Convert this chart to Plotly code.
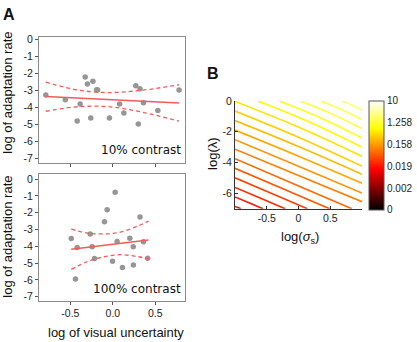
import plotly.graph_objects as go

W, H = 417, 342

# ---------------- data: panel A ----------------
top_x = [-0.79, -0.56, -0.42, -0.385, -0.326, -0.30, -0.26, -0.235, -0.19, -0.18,
         -0.04, 0.08, 0.13, 0.27, 0.30, 0.32, 0.36, 0.53, 0.78]
top_y = [-3.26, -3.55, -4.80, -3.80, -2.20, -2.62, -4.62, -2.45, -2.95, -2.97,
         -4.61, -3.80, -4.32, -2.72, -4.97, -2.89, -3.72, -4.18, -2.97]
top_fit_x = [-0.79, 0.78]
top_fit_y = [-3.35, -3.74]
top_band_x = [-0.79, -0.40, -0.03, 0.35, 0.78]
top_band_upper = [-2.51, -2.98, -3.12, -2.98, -2.66]
top_band_lower = [-4.22, -3.95, -3.96, -4.28, -4.80]

bot_x = [-0.49, -0.42, -0.44, -0.267, -0.244, -0.216, -0.098, -0.067, -0.004, 0.027,
         0.05, 0.113, 0.20, 0.24, 0.242, 0.32, 0.36, 0.41]
bot_y = [-3.54, -4.07, -5.95, -3.27, -4.03, -4.73, -2.55, -1.83, -4.90, -0.78,
         -3.72, -5.27, -3.52, -4.03, -5.12, -2.26, -3.74, -4.71]
bot_fit_x = [-0.49, 0.42]
bot_fit_y = [-4.18, -3.63]
bot_band_x = [-0.49, -0.30, -0.10, 0.10, 0.30, 0.42]
bot_band_upper = [-2.98, -3.215, -3.265, -3.145, -2.785, -2.51]
bot_band_lower = [-5.38, -4.915, -4.625, -4.505, -4.625, -4.75]

a_ytick_vals = [0, -1, -2, -3, -4, -5, -6, -7]
a_ytick_text = ["0", "-1", "-2", "-3", "-4", "-5", "-6", "-7"]
a_xtick_vals = [-0.5, 0.0, 0.5]
a_xtick_text = ["-0.5", "0.0", "0.5"]

# ---------------- data: panel B ----------------
c_start_x = [-1, -1, -1, -1, -1, -1, -1, -1, -1, -1, -1, -1, -0.64, -0.30, 0.03, 0.35, 0.69]
c_start_y = [-6.85, -6.23, -5.61, -4.99, -4.37, -3.75, -3.13, -2.51, -1.89, -1.27, -0.65, -0.03,
             0, 0, 0, 0, 0]
c_end_x = [-0.91, -0.56, -0.21, 0.14, 0.49, 0.84, 1, 1, 1, 1, 1, 1, 1, 1, 1, 1, 1]
c_end_y = [-7, -7, -7, -7, -7, -7, -6.54, -5.98, -5.34, -4.76, -4.23, -3.60, -3.00, -2.40,
           -1.80, -1.20, -0.60]
c_bulge = [0, 0, 0, 0, 0, 0, 0, 0, 0.03, 0.06, 0.09, 0.12, 0.12, 0.10, 0.08, 0.05, 0.02]
c_levels = [0.38, 0.41, 0.44, 0.47, 0.50, 0.53, 0.56, 0.59, 0.62, 0.65, 0.68, 0.71,
            0.74, 0.77, 0.80, 0.83, 0.86]
b_xtick_vals = [-0.5, 0, 0.5]
b_xtick_text = ["-0.5", "0", "0.5"]
b_ytick_vals = [0, -2, -4, -6]
b_ytick_text = ["0", "-2", "-4", "-6"]
cbar_tickvals = [0, 0.2, 0.4, 0.6, 0.8, 1.0]
cbar_ticktext = ["0", "0.002", "0.019", "0.158", "1.258", "10"]


def hot(t):
    r = min(1.0, max(0.0, t / 0.375))
    g = min(1.0, max(0.0, (t - 0.375) / 0.375))
    b = min(1.0, max(0.0, (t - 0.75) / 0.25))
    return "rgb(%d,%d,%d)" % (round(r * 255), round(g * 255), round(b * 255))


hot_scale = [[0, "rgb(0,0,0)"], [0.375, "rgb(255,0,0)"], [0.75, "rgb(255,255,0)"], [1, "rgb(255,255,255)"]]


def fx(p):
    return p / W


def fy(p):
    return 1 - p / H


RED = "rgb(240,92,92)"
PT = "rgb(150,150,150)"
FONT = "Liberation Sans, Arial, sans-serif"

fig = go.Figure()

for xs, ys, fxs, fys, bx, bu, bl, ax in [
    (top_x, top_y, top_fit_x, top_fit_y, top_band_x, top_band_upper, top_band_lower, ("x", "y")),
    (bot_x, bot_y, bot_fit_x, bot_fit_y, bot_band_x, bot_band_upper, bot_band_lower, ("x2", "y2")),
]:
    fig.add_trace(go.Scatter(x=xs, y=ys, mode="markers", xaxis=ax[0], yaxis=ax[1],
                             marker=dict(size=5.5, color=PT), showlegend=False, hoverinfo="skip"))
    fig.add_trace(go.Scatter(x=fxs, y=fys, mode="lines", xaxis=ax[0], yaxis=ax[1],
                             line=dict(color=RED, width=1.5), showlegend=False, hoverinfo="skip"))
    for band in (bu, bl):
        fig.add_trace(go.Scatter(x=bx, y=band, mode="lines", xaxis=ax[0], yaxis=ax[1],
                                 line=dict(color=RED, width=1.3, dash="4px,3px", shape="spline"),
                                 showlegend=False, hoverinfo="skip"))

for k in range(len(c_start_x)):
    mx = (c_start_x[k] + c_end_x[k]) / 2
    my = (c_start_y[k] + c_end_y[k]) / 2 + c_bulge[k]
    fig.add_trace(go.Scatter(x=[c_start_x[k], mx, c_end_x[k]], y=[c_start_y[k], my, c_end_y[k]],
                             mode="lines", xaxis="x3", yaxis="y3",
                             line=dict(color=hot(c_levels[k]), width=1.6, shape="spline"),
                             showlegend=False, hoverinfo="skip"))

fig.add_trace(go.Scatter(x=[5, 5], y=[5, 5], mode="markers", xaxis="x3", yaxis="y3",
                         marker=dict(color=[0, 1], colorscale=hot_scale, cmin=0, cmax=1, showscale=True,
                                     colorbar=dict(x=fx(369), xanchor="left", y=fy(152.5), yanchor="middle",
                                                   len=109, lenmode="pixels", thickness=15,
                                                   thicknessmode="pixels", outlinewidth=1,
                                                   outlinecolor="#555", ticks="", tickvals=cbar_tickvals,
                                                   ticktext=cbar_ticktext, xpad=0, ypad=0,
                                                   tickfont=dict(size=10, family=FONT, color="#222"))),
                         showlegend=False, hoverinfo="skip"))

a_axis = dict(showline=True, mirror=True, linecolor="#8a8a8a", linewidth=1, ticks="outside",
              ticklen=3, tickcolor="#555", showgrid=False, zeroline=False,
              tickfont=dict(size=10.5, family=FONT, color="#222"))
b_axis = dict(showline=True, mirror=False, linecolor="#333", linewidth=1, ticks="inside",
              ticklen=3, tickcolor="#333", showgrid=False, zeroline=False,
              tickfont=dict(size=10.5, family=FONT, color="#222"))

fig.update_layout(
    width=W, height=H, margin=dict(l=0, r=0, t=0, b=0),
    paper_bgcolor="white", plot_bgcolor="white",
    xaxis=dict(a_axis, domain=[fx(39), fx(185)], range=[-0.87, 0.85], tickvals=a_xtick_vals,
               showticklabels=False, anchor="y"),
    yaxis=dict(a_axis, domain=[fy(160), fy(32)], range=[-7.25, 0.13], tickvals=a_ytick_vals,
               ticktext=a_ytick_text, anchor="x"),
    xaxis2=dict(a_axis, domain=[fx(39), fx(185)], range=[-0.87, 0.85], tickvals=a_xtick_vals,
                ticktext=a_xtick_text, anchor="y2"),
    yaxis2=dict(a_axis, domain=[fy(301), fy(171.5)], range=[-7.25, 0.3], tickvals=a_ytick_vals,
                ticktext=a_ytick_text, anchor="x2"),
    xaxis3=dict(b_axis, domain=[fx(235), fx(362)], range=[-1, 1], tickvals=b_xtick_vals,
                ticktext=b_xtick_text, anchor="y3"),
    yaxis3=dict(b_axis, domain=[fy(207), fy(97)], range=[-7, 0], tickvals=b_ytick_vals,
                ticktext=b_ytick_text, anchor="x3"),
)


def ann(text, x, y, size=13, angle=0, xanchor="center", family=FONT, bold=False):
    fig.add_annotation(text=("<b>%s</b>" % text) if bold else text, x=fx(x), y=fy(y),
                       xref="paper", yref="paper", showarrow=False, textangle=angle,
                       xanchor=xanchor, yanchor="middle",
                       font=dict(size=size, family=family, color="#111"))


ann("A", 8.5, 9, size=16, bold=True)
ann("B", 212.5, 69, size=16, bold=True)
ann("log of adaptation rate", 7.5, 89, size=13, angle=-90)
ann("log of adaptation rate", 7.5, 236, size=13, angle=-90)
ann("log of visual uncertainty", 116, 333, size=13)
ann("10% contrast", 183, 147, size=12, xanchor="right", family="DejaVu Sans")
ann("100% contrast", 183, 289, size=12, xanchor="right", family="DejaVu Sans")
ann("log(λ)", 213, 151, size=13, angle=-90)
ann("log(<i>σ</i><sub>s</sub>)", 300, 236, size=13)

fig.write_html("out.html", config={"displayModeBar": False},
               post_script="document.body.style.margin='0px';")
